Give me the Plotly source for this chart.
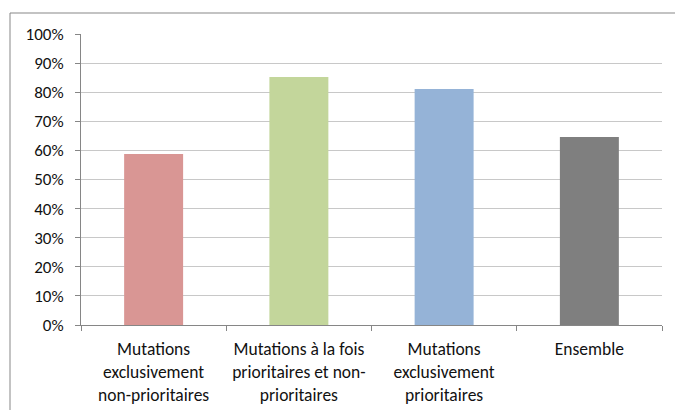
import plotly.graph_objects as go

categories = [
    "Mutations<br>exclusivement<br>non-prioritaires",
    "Mutations à la fois<br>prioritaires et non-<br>prioritaires",
    "Mutations<br>exclusivement<br>prioritaires",
    "Ensemble",
]
shares = [0.588, 0.852, 0.811, 0.646]
bar_colors = ["#D99694", "#C3D69B", "#95B3D7", "#7F7F7F"]
y_ticks = [i / 10 for i in range(11)]
y_labels = [f"{i * 10}%" for i in range(11)]

font_family = "Carlito, Calibri, Lato, 'Open Sans', sans-serif"

fig = go.Figure(
    go.Bar(
        x=categories,
        y=shares,
        marker=dict(color=bar_colors, line=dict(width=0)),
        width=0.406,
        hoverinfo="skip",
    )
)

fig.update_layout(
    width=675,
    height=410,
    margin=dict(l=81, r=13, t=34, b=85),
    paper_bgcolor="white",
    plot_bgcolor="white",
    showlegend=False,
    font=dict(family=font_family, size=17, color="#111111"),
    bargap=0.594,
)

fig.update_yaxes(
    range=[0, 1],
    tickvals=y_ticks,
    ticktext=y_labels,
    showgrid=True,
    gridcolor="#C8C8C8",
    gridwidth=1,
    zeroline=False,
    showline=True,
    linecolor="#868686",
    linewidth=1,
    ticks="outside",
    ticklen=5,
    tickcolor="#868686",
    tickfont=dict(size=17),
    ticklabelstandoff=8,
    automargin=False,
    fixedrange=True,
)

fig.update_xaxes(
    showline=True,
    linecolor="#868686",
    linewidth=1,
    ticks="outside",
    tickson="boundaries",
    ticklen=5,
    tickcolor="#868686",
    tickfont=dict(size=17.5),
    ticklabelstandoff=8,
    automargin=False,
    showgrid=False,
    fixedrange=True,
)

# outer chart frame (top and left edges visible inside the canvas)
fig.add_shape(
    type="rect",
    xref="paper", yref="paper",
    x0=(10 - 81) / 581, x1=1.2,
    y0=-0.5, y1=(325 - 13) / 291,
    line=dict(color="#878787", width=1),
    fillcolor="rgba(0,0,0,0)",
    layer="below",
)

fig.write_html("out.html")
